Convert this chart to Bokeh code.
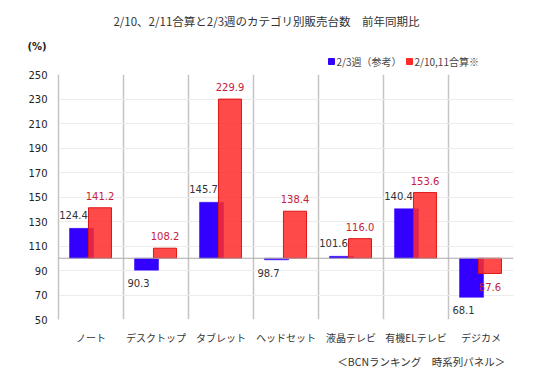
from bokeh.plotting import figure
from bokeh.models import FixedTicker, Span, ColumnDataSource, Title, Range1d
from bokeh.transform import dodge
from bokeh.embed import file_html
from bokeh.resources import INLINE
from bokeh.core.properties import value

categories = ["ノート", "デスクトップ", "タブレット", "ヘッドセット", "液晶テレビ", "有機ELテレビ", "デジカメ"]
week_feb3 = [124.4, 90.3, 145.7, 98.7, 101.6, 140.4, 68.1]
feb10_11 = [141.2, 108.2, 229.9, 138.4, 116.0, 153.6, 87.6]
y_ticks = [50, 70, 90, 110, 130, 150, 170, 190, 210, 230, 250]
series_names = ["2/3週（参考）", "2/10,11合算※"]
title_text = "2/10、2/11合算と2/3週のカテゴリ別販売台数　前年同期比"
unit_text = "(%)"
source_text = "＜BCNランキング　時系列パネル＞"
base = 100

BLUE = "#3300ff"
RED = "#ff2a2a"
JP = "Noto Sans CJK JP"
NUM = "DejaVu Sans"
GRIDV = "#c4c4c4"
W = 550
HEAD_H = 69

# ---------------- header (title, unit, legend) ----------------
h = figure(width=W, height=HEAD_H, x_range=Range1d(0, W), y_range=Range1d(HEAD_H, 0),
           x_axis_type=None, y_axis_type=None, output_backend="svg", toolbar_location=None,
           min_border=0)
h.outline_line_color = None
h.background_fill_color = "white"
h.border_fill_color = "white"
h.text(x=[266], y=[20], text=[title_text], text_align="center", text_baseline="middle",
       text_font=value(JP), text_font_size="11.5px", text_color="#333333")
h.text(x=[36.5], y=[46], text=[unit_text], text_align="center", text_baseline="middle",
       text_font=value(NUM), text_font_size="10px", text_font_style="bold", text_color="#222222")
h.scatter(x=[331, 409], y=[61, 61], marker="square", size=6, color=[BLUE, RED])
h.text(x=[336, 414], y=[61, 61], text=series_names, text_align="left", text_baseline="middle",
       text_font=value(JP), text_font_size="10px", text_color="#444444")

# ---------------- main chart ----------------
p = figure(width=W, height=373 - HEAD_H, x_range=(-0.5, len(categories) - 0.5), y_range=(50, 250),
           output_backend="svg", toolbar_location=None,
           min_border_left=58, min_border_right=37, min_border_top=74 - HEAD_H, min_border_bottom=54)
p.outline_line_color = None
p.background_fill_color = "white"
p.border_fill_color = "white"

idx = list(range(len(categories)))
src = ColumnDataSource(dict(
    x=idx, a=week_feb3, b=feb10_11,
    a_lbl=[f"{v:.1f}" for v in week_feb3],
    b_lbl=[f"{v:.1f}" for v in feb10_11],
    a_off=[-13 if v >= base else 13 for v in week_feb3],
    b_off=[-12 if v >= base else 14 for v in feb10_11],
))

# grids
p.xgrid.ticker = FixedTicker(ticks=[i - 0.5 for i in range(len(categories) + 1)])
p.xgrid.grid_line_color = GRIDV
p.xgrid.grid_line_width = 1.5
p.ygrid.ticker = FixedTicker(ticks=y_ticks)
p.ygrid.grid_line_color = "#ececec"
p.ygrid.grid_line_width = 1.2

# axes
p.xaxis.ticker = FixedTicker(ticks=idx)
p.xaxis.major_label_overrides = {i: c for i, c in enumerate(categories)}
p.xaxis.axis_line_color = None
p.xaxis.major_tick_line_color = None
p.xaxis.major_tick_out = 0
p.xaxis.major_tick_in = 0
p.xaxis.minor_tick_line_color = None
p.xaxis.major_label_standoff = 10
p.xaxis.major_label_text_font = JP
p.xaxis.major_label_text_font_size = "10px"
p.xaxis.major_label_text_color = "#333333"

p.yaxis.ticker = FixedTicker(ticks=y_ticks)
p.yaxis.axis_line_color = GRIDV
p.yaxis.axis_line_width = 1.5
p.yaxis.major_tick_line_color = None
p.yaxis.major_tick_out = 0
p.yaxis.major_tick_in = 0
p.yaxis.minor_tick_line_color = None
p.yaxis.major_label_standoff = 11
p.yaxis.major_label_text_font = NUM
p.yaxis.major_label_text_font_size = "10px"
p.yaxis.major_label_text_color = "#222222"

p.add_layout(Span(location=base, dimension="width", line_color="#a8a8a8", line_width=1.2))

# bars
p.vbar(x=dodge("x", -0.146, range=p.x_range), top="a", bottom=base, width=0.37,
       source=src, fill_color=BLUE, line_color=BLUE, line_width=0.5)
p.vbar(x=dodge("x", 0.138, range=p.x_range), top="b", bottom=base, width=0.354,
       source=src, fill_color=RED, fill_alpha=0.85, line_color="#dd1515", line_width=1)

# value labels
p.text(x=dodge("x", -0.146, range=p.x_range), y="a", text="a_lbl", source=src,
       x_offset=-8, y_offset="a_off", text_align="center", text_baseline="middle",
       text_font=value(NUM), text_font_size="10px", text_color="#333333")
p.text(x=dodge("x", 0.138, range=p.x_range), y="b", text="b_lbl", source=src,
       x_offset=0, y_offset="b_off", text_align="center", text_baseline="middle",
       text_font=value(NUM), text_font_size="10px", text_color="#c8203c")

# footer
footer = Title(text=source_text, align="right", offset=8, text_font=JP, text_font_size="10.5px",
               text_font_style="normal", text_color="#333333", standoff=8)
p.add_layout(footer, "below")

open("out.html", "w").write(file_html([h, p], INLINE))
